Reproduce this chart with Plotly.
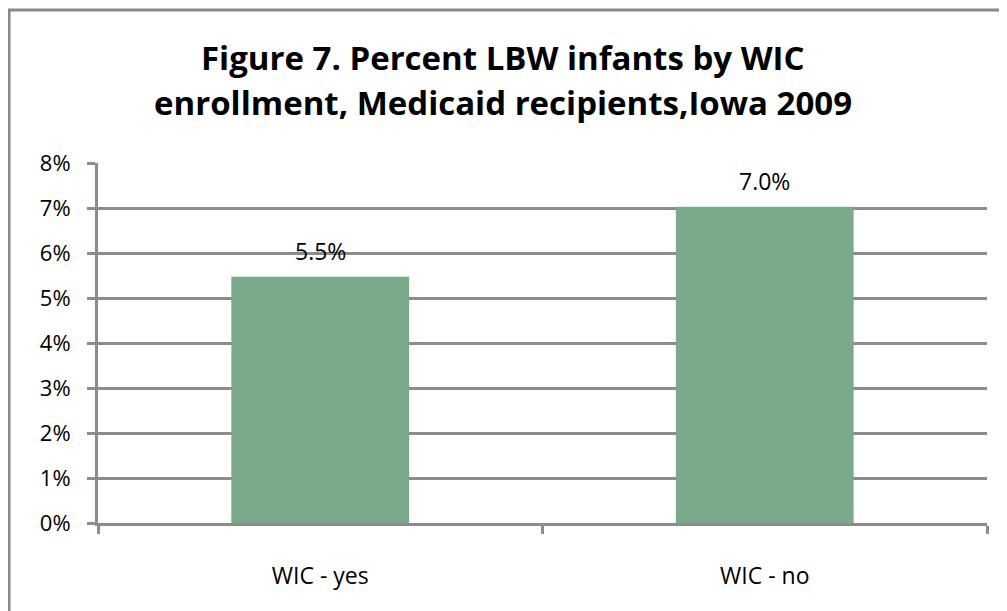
import plotly.graph_objects as go

categories = ["WIC - yes", "WIC - no"]
values = [0.0547, 0.0703]
labels = ["5.5%", "7.0%"]
title_lines = ["Figure 7. Percent LBW infants by WIC", "enrollment, Medicaid recipients,Iowa 2009"]
y_ticks = [0, 0.01, 0.02, 0.03, 0.04, 0.05, 0.06, 0.07, 0.08]

GRAY = "#8c8c8c"
FONT = "Open Sans"

# page has an 8px body margin; figure coords = page coords - 8
W, H = 999, 603
L, R, T, B = 90, 979, 155, 515
PH = B - T
PW = R - L

fig = go.Figure()
fig.add_trace(go.Bar(
    x=categories, y=values, marker=dict(color="#7baa8b", line=dict(width=0)),
    hoverinfo="skip"
))

annotations = []
for c, v, t in zip(categories, values, labels):
    annotations.append(dict(x=c, y=v, xref="x", yref="y", text=t, showarrow=False,
                            yanchor="middle", yshift=26,
                            font=dict(family=FONT, size=23, color="#000000")))
for i, line in enumerate(title_lines):
    annotations.append(dict(x=(495 - L) / PW, xref="paper", yref="paper",
                            y=(B - (50 + 45 * i)) / PH, text="<b>" + line + "</b>",
                            showarrow=False, xanchor="center", yanchor="middle",
                            font=dict(family=FONT, size=33, color="#000000")))

fig.update_layout(
    width=W, height=H,
    margin=dict(l=L, r=W - R, t=T, b=H - B, pad=0),
    plot_bgcolor="white", paper_bgcolor="white",
    showlegend=False,
    bargap=0.6,
    annotations=annotations,
    shapes=[dict(type="rect", xref="paper", yref="paper",
                 x0=(1 - L) / PW, x1=1.2, y0=-0.4, y1=(B - 2) / PH,
                 line=dict(color="#898989", width=3), fillcolor="rgba(0,0,0,0)", layer="below")],
    xaxis=dict(
        showgrid=False, tickson="boundaries", ticks="outside", ticklen=8, tickwidth=3,
        tickcolor=GRAY, showline=True, linecolor=GRAY, linewidth=3,
        tickfont=dict(family=FONT, size=23, color="#000000"), ticklabelstandoff=30,
    ),
    yaxis=dict(
        range=[0, 0.08], tickvals=y_ticks, tickformat=".0%",
        showgrid=True, gridcolor=GRAY, gridwidth=3, zeroline=False,
        ticks="outside", ticklen=8, tickwidth=3, tickcolor=GRAY,
        showline=True, linecolor=GRAY, linewidth=3,
        tickfont=dict(family=FONT, size=22, color="#000000"), ticklabelstandoff=12,
    ),
)

fig.write_html("out.html")
